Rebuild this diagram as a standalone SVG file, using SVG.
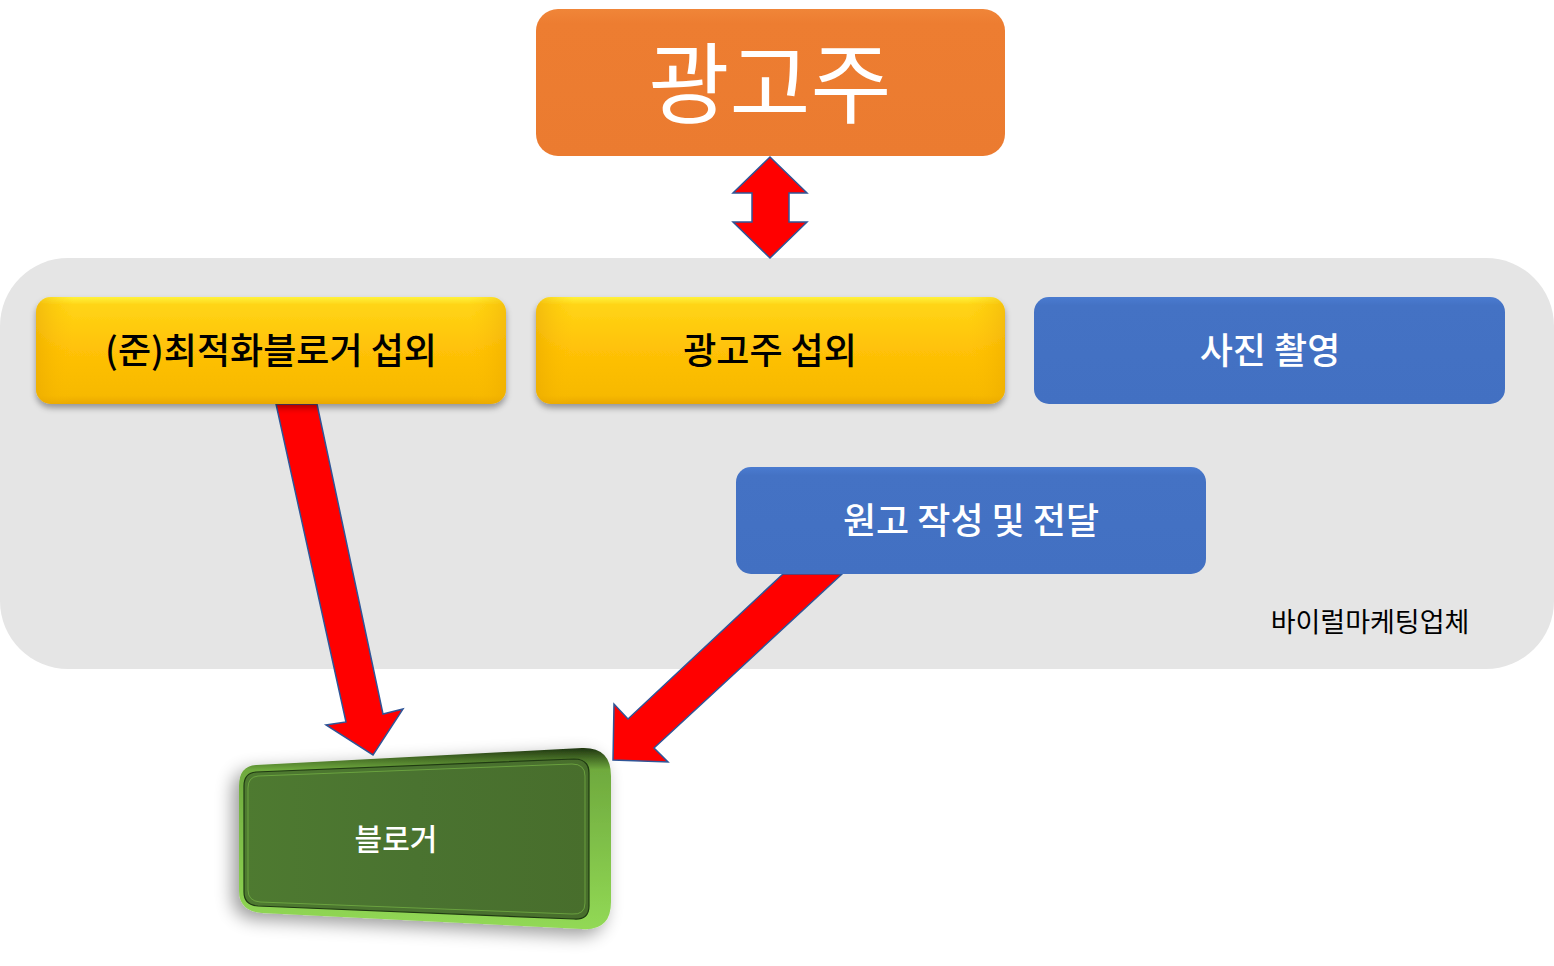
<svg xmlns="http://www.w3.org/2000/svg" width="1554" height="966" viewBox="0 0 1554 966">
<defs>
<style>
.k{font-family:"Noto Sans CJK KR","Noto Sans",sans-serif;text-anchor:middle;font-weight:500}
.r{font-weight:400}
.w{fill:#ffffff}
.b{fill:#000000}
.arr{fill:#ff0000;stroke:#2f5597;stroke-width:1.5;stroke-linejoin:miter}
</style>
<linearGradient id="gy" x1="0" y1="0" x2="0" y2="1">
<stop offset="0" stop-color="#fff23c"/>
<stop offset="0.07" stop-color="#ffd516"/>
<stop offset="0.5" stop-color="#ffc107"/>
<stop offset="0.92" stop-color="#f7b900"/>
<stop offset="1" stop-color="#e9a800"/>
</linearGradient>
<linearGradient id="gyx" x1="0" y1="0" x2="1" y2="0">
<stop offset="0" stop-color="#e8a800" stop-opacity="0.55"/>
<stop offset="0.08" stop-color="#ffc000" stop-opacity="0"/>
<stop offset="0.92" stop-color="#ffc000" stop-opacity="0"/>
<stop offset="1" stop-color="#e8a800" stop-opacity="0.45"/>
</linearGradient>
<linearGradient id="gb" x1="0" y1="0" x2="0" y2="1">
<stop offset="0" stop-color="#4a7bd0"/>
<stop offset="0.08" stop-color="#4472c4"/>
<stop offset="1" stop-color="#4270c2"/>
</linearGradient>
<linearGradient id="go" x1="0" y1="0" x2="0" y2="1">
<stop offset="0" stop-color="#f08538"/>
<stop offset="0.1" stop-color="#ed7d31"/>
<stop offset="1" stop-color="#eb7b30"/>
</linearGradient>
<linearGradient id="gg" x1="0" y1="0" x2="1" y2="0">
<stop offset="0" stop-color="#4e7a30"/>
<stop offset="0.5" stop-color="#4a7330"/>
<stop offset="1" stop-color="#486e2c"/>
</linearGradient>
<linearGradient id="grim" x1="0" y1="0" x2="0" y2="1">
<stop offset="0" stop-color="#1f3510"/>
<stop offset="0.12" stop-color="#6faa3e"/>
<stop offset="1" stop-color="#92d955"/>
</linearGradient>
<filter id="sh" x="-10%" y="-20%" width="120%" height="150%">
<feGaussianBlur in="SourceAlpha" stdDeviation="3"/>
<feOffset dx="0" dy="4" result="o"/>
<feComponentTransfer><feFuncA type="linear" slope="0.35"/></feComponentTransfer>
<feMerge><feMergeNode/><feMergeNode in="SourceGraphic"/></feMerge>
</filter>
<filter id="shg" x="-20%" y="-30%" width="140%" height="160%">
<feGaussianBlur in="SourceAlpha" stdDeviation="9"/>
<feOffset dx="-6" dy="6" result="o"/>
<feComponentTransfer><feFuncA type="linear" slope="0.4"/></feComponentTransfer>
<feMerge><feMergeNode/><feMergeNode in="SourceGraphic"/></feMerge>
</filter>
</defs>
<rect width="1554" height="966" fill="#ffffff"/>

<g id="viral-agency">
<rect x="0" y="258" width="1554" height="411" rx="68" ry="68" fill="#e5e5e5"/>
<text class="k r b" x="1370" y="632" font-size="27">바이럴마케팅업체</text>
</g>

<g id="connectors">
<polygon class="arr" points="770,157 807,193 789,193 789,222 807,222 770,258 733,222 752,222 752,193 733,193"/>
<polygon class="arr" points="276,404 317,404 383,714 403,709 373,755 326,725 346,722"/>
<polygon class="arr" points="783,574 842,574 654,748 668,762 613,760 614,704 628,719"/>
</g>

<g id="advertiser">
<rect x="536" y="9" width="469" height="147" rx="22" ry="22" fill="url(#go)"/>
<text class="k r w" x="770" y="116" font-size="88">광고주</text>
</g>

<g id="blogger-recruit">
<g filter="url(#sh)">
<rect x="36" y="297" width="470" height="107" rx="15" ry="15" fill="url(#gy)"/>
<rect x="36" y="297" width="470" height="107" rx="15" ry="15" fill="url(#gyx)"/>
</g>
<text class="k b" x="271" y="364" font-size="36">(준)최적화블로거 섭외</text>
</g>

<g id="advertiser-recruit">
<g filter="url(#sh)">
<rect x="536" y="297" width="469" height="107" rx="15" ry="15" fill="url(#gy)"/>
<rect x="536" y="297" width="469" height="107" rx="15" ry="15" fill="url(#gyx)"/>
</g>
<text class="k b" x="770" y="364" font-size="36">광고주 섭외</text>
</g>

<g id="photo">
<rect x="1034" y="297" width="471" height="107" rx="15" ry="15" fill="url(#gb)"/>
<text class="k w" x="1270" y="364" font-size="36">사진 촬영</text>
</g>

<g id="writing">
<rect x="736" y="467" width="470" height="107" rx="15" ry="15" fill="url(#gb)"/>
<text class="k w" x="971" y="534" font-size="36">원고 작성 및 전달</text>
</g>

<g id="blogger">
<path filter="url(#shg)" d="M 256,765 L 582,748 Q 611,747 611,776 L 611,902 Q 611,931 582,929 L 262,913 Q 239,911 239,891 L 239,786 Q 239,766 256,765 Z" fill="url(#grim)"/>
<path d="M 256,772 L 574,759 Q 589,759 589,773 L 589,906 Q 589,920 574,919 L 258,906 Q 244,905 244,892 L 244,786 Q 244,773 256,772 Z" fill="url(#gg)" stroke="#1f3a12" stroke-width="1.2"/>
<path d="M 258,776 L 572,764 Q 585,764 585,776 L 585,903 Q 585,915 572,914 L 260,902 Q 248,901 248,890 L 248,788 Q 248,777 258,776 Z" fill="none" stroke="#7fbf4a" stroke-width="1" opacity="0.6"/>
<text class="k w" x="396" y="850" font-size="30">블로거</text>
</g>
</svg>
